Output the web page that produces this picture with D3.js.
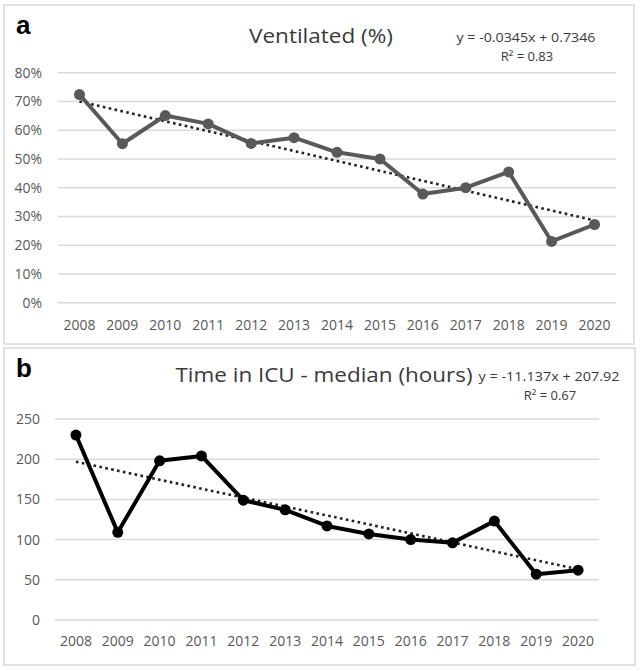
<!DOCTYPE html>
<html>
<head>
<meta charset="utf-8">
<script src="https://cdn.jsdelivr.net/npm/d3@7"></script>
<style>
  body { margin: 0; background: #fff; }
  svg text { font-family: "Open Sans", "Noto Sans", sans-serif; }
</style>
</head>
<body>
<svg id="chart" width="641" height="671"></svg>
<script>
// data
const years = ["2008","2009","2010","2011","2012","2013","2014","2015","2016","2017","2018","2019","2020"];
const ventilated = [0.724, 0.553, 0.651, 0.622, 0.554, 0.574, 0.523, 0.500, 0.378, 0.400, 0.455, 0.213, 0.272];
const icuHours = [230, 109, 198, 204, 149, 137, 117, 107, 100, 96, 123, 57, 62];
const ventTicks = [0, 0.1, 0.2, 0.3, 0.4, 0.5, 0.6, 0.7, 0.8];
const icuTicks = [0, 50, 100, 150, 200, 250];
// trendline (from printed equations, x = 1..13)
const ventTrend = { slope: -0.0345, intercept: 0.7346, eq: "y = -0.0345x + 0.7346", r2: "R² = 0.83" };
const icuTrend = { slope: -11.137, intercept: 207.92, eq: "y = -11.137x + 207.92", r2: "R² = 0.67" };

const svg = d3.select("#chart");
const textColor = "#595959";

function drawPanel(cfg) {
  const g = svg.append("g");

  // frame
  g.append("rect")
    .attr("x", cfg.box[0]).attr("y", cfg.box[1])
    .attr("width", cfg.box[2]).attr("height", cfg.box[3])
    .attr("fill", "#fff").attr("stroke", "#d9d9d9").attr("stroke-width", 1.5);

  const x = d3.scaleBand().domain(years).range([cfg.left, cfg.right]);
  const y = d3.scaleLinear().domain([0, cfg.ticks[cfg.ticks.length - 1]]).range([cfg.bottom, cfg.top]);

  // gridlines
  g.selectAll(".grid")
    .data(cfg.ticks)
    .enter()
    .append("line")
    .attr("x1", cfg.left).attr("x2", cfg.right)
    .attr("y1", d => y(d)).attr("y2", d => y(d))
    .attr("stroke", "#d9d9d9").attr("stroke-width", 1.5);

  // y axis labels
  g.selectAll(".ylab")
    .data(cfg.ticks)
    .enter()
    .append("text")
    .attr("x", cfg.ylabX)
    .attr("y", d => y(d) + 5)
    .attr("text-anchor", "end")
    .attr("fill", textColor)
    .style("font-size", "14px")
    .text(cfg.fmt);

  // x axis labels
  g.selectAll(".xlab")
    .data(years)
    .enter()
    .append("text")
    .attr("x", d => x(d) + x.bandwidth() / 2)
    .attr("y", cfg.xlabY)
    .attr("text-anchor", "middle")
    .attr("fill", textColor)
    .style("font-size", "14px")
    .text(d => d);

  const cx = d => x(d) + x.bandwidth() / 2;

  // trend line (dotted)
  const first = years[0], last = years[years.length - 1];
  g.append("line")
    .attr("x1", cx(first)).attr("y1", y(cfg.trend.slope * 1 + cfg.trend.intercept))
    .attr("x2", cx(last)).attr("y2", y(cfg.trend.slope * years.length + cfg.trend.intercept))
    .attr("stroke", "#222").attr("stroke-width", 2.6)
    .attr("stroke-dasharray", "2.6 3.4");

  // data line
  const line = d3.line()
    .x((d, i) => cx(years[i]))
    .y(d => y(d));

  g.append("path")
    .attr("d", line(cfg.values))
    .attr("fill", "none")
    .attr("stroke", cfg.color)
    .attr("stroke-width", 4)
    .attr("stroke-linejoin", "round");

  g.selectAll(".dot")
    .data(cfg.values)
    .enter()
    .append("circle")
    .attr("cx", (d, i) => cx(years[i]))
    .attr("cy", d => y(d))
    .attr("r", 5.5)
    .attr("fill", cfg.color);

  // panel letter
  g.append("text")
    .attr("x", 16).attr("y", cfg.letterY)
    .style("font-family", "'Liberation Sans', Arial, sans-serif")
    .style("font-weight", "bold")
    .style("font-size", "26px")
    .attr("fill", "#000")
    .text(cfg.letter);

  // title
  g.append("text")
    .attr("x", cfg.titleX).attr("y", cfg.titleY)
    .attr("text-anchor", "middle")
    .attr("fill", "#3a3a3a")
    .style("font-size", "20px")
    .attr("textLength", cfg.titleLen)
    .attr("lengthAdjust", "spacingAndGlyphs")
    .text(cfg.title);

  // equation
  g.append("text")
    .attr("x", cfg.eqX).attr("y", cfg.titleY - 1)
    .attr("text-anchor", "middle")
    .attr("fill", "#3a3a3a")
    .style("font-size", "13px")
    .attr("textLength", cfg.eqLen)
    .attr("lengthAdjust", "spacingAndGlyphs")
    .text(cfg.trend.eq);

  g.append("text")
    .attr("x", cfg.eqX + 1).attr("y", cfg.titleY + 18)
    .attr("text-anchor", "middle")
    .attr("fill", "#3a3a3a")
    .style("font-size", "13px")
    .text(cfg.trend.r2);
}

drawPanel({
  box: [4, 5, 630, 339],
  left: 58, right: 616, top: 72.7, bottom: 302.7,
  ticks: ventTicks, fmt: d => Math.round(d * 100) + "%",
  values: ventilated, trend: ventTrend, color: "#595959",
  ylabX: 42, xlabY: 330,
  letter: "a", letterY: 34,
  title: "Ventilated (%)", titleX: 321, titleY: 43, titleLen: 144,
  eqX: 526, eqLen: 139
});

drawPanel({
  box: [4, 348, 631, 317],
  left: 55, right: 599, top: 419, bottom: 620,
  ticks: icuTicks, fmt: d => d,
  values: icuHours, trend: icuTrend, color: "#000",
  ylabX: 40, xlabY: 646,
  letter: "b", letterY: 377,
  title: "Time in ICU - median (hours)", titleX: 324, titleY: 382, titleLen: 297,
  eqX: 549, eqLen: 141
});
</script>
</body>
</html>
